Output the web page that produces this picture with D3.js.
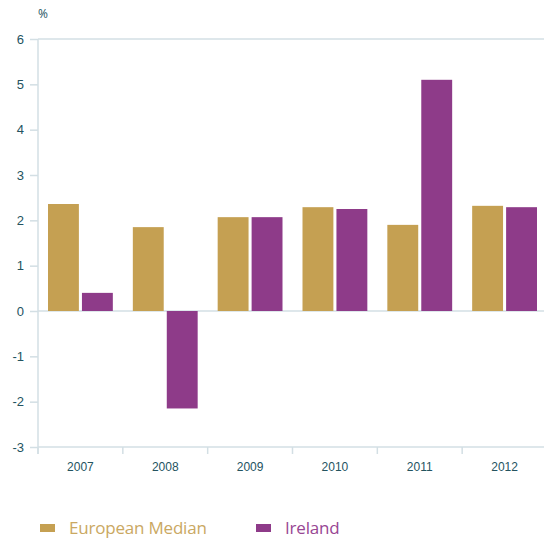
<!DOCTYPE html>
<html>
<head>
<meta charset="utf-8">
<script src="https://cdn.jsdelivr.net/npm/d3@7"></script>
<style>
  body { margin: 0; background: #fff; }
  svg { display: block; font-family: "Open Sans", "Noto Sans", sans-serif; }
</style>
</head>
<body>
<div id="chart"></div>
<script>
const jaren = ["2007", "2008", "2009", "2010", "2011", "2012"];
const europeanMedian = [2.36, 1.85, 2.07, 2.29, 1.90, 2.32];
const ireland = [0.40, -2.15, 2.07, 2.25, 5.10, 2.29];
const series = ["European Median", "Ireland"];
const yTicks = [-3, -2, -1, 0, 1, 2, 3, 4, 5, 6];

const kleuren = ["#c5a052", "#8e3b89"];
const tekstKleuren = ["#caa862", "#984693"];
const asKleur = "#d3dfe4";
const labelKleur = "#24535f";

const width = 544;
const height = 538;
const plotLinks = 38, plotRechts = 547, plotBoven = 39, plotOnder = 447;

const x = d3.scaleBand()
  .domain(jaren)
  .range([plotLinks, plotRechts]);
const xSub = d3.scaleBand()
  .domain(series)
  .range([10, x.bandwidth() - 10])
  .paddingInner(0.09);
const y = d3.scaleLinear()
  .domain([-3, 6])
  .range([plotOnder, plotBoven]);

const svg = d3.select("#chart")
  .append("svg")
  .attr("width", width)
  .attr("height", height);

// Y-as
const yAs = svg.append("g")
  .attr("transform", `translate(${plotLinks},0)`)
  .call(d3.axisLeft(y).tickValues(yTicks).tickSize(8).tickPadding(6).tickFormat(d => String(d)));
yAs.select(".domain").remove();
yAs.selectAll(".tick line").attr("stroke", asKleur).attr("stroke-width", 1.5);
yAs.selectAll(".tick text").attr("font-size", 13).attr("fill", labelKleur);

svg.append("line")
  .attr("x1", plotLinks).attr("x2", plotLinks)
  .attr("y1", y(6)).attr("y2", plotOnder + 7)
  .attr("stroke", asKleur).attr("stroke-width", 1.5);

// Horizontale lijnen bij 6, 0 en -3
[6, 0, -3].forEach(v => {
  svg.append("line")
    .attr("x1", plotLinks).attr("x2", width)
    .attr("y1", y(v)).attr("y2", y(v))
    .attr("stroke", asKleur).attr("stroke-width", 1.5);
});

svg.append("text")
  .text("%")
  .attr("x", 38).attr("y", 18)
  .attr("font-size", 12)
  .attr("fill", labelKleur);

// X-as
const xAs = svg.append("g")
  .attr("transform", `translate(0,${plotOnder})`)
  .call(d3.axisBottom(x).tickSize(0).tickPadding(15));
xAs.select(".domain").remove();
xAs.selectAll(".tick text").attr("font-size", 12).attr("fill", labelKleur);

svg.append("g")
  .selectAll("line")
  .data(jaren)
  .join("line")
  .attr("x1", d => x(d)).attr("x2", d => x(d))
  .attr("y1", plotOnder).attr("y2", plotOnder + 7)
  .attr("stroke", asKleur).attr("stroke-width", 1.5);

// Balken
const waarden = [europeanMedian, ireland];
series.forEach((s, i) => {
  svg.append("g")
    .attr("fill", kleuren[i])
    .selectAll("rect")
    .data(jaren)
    .join("rect")
    .attr("x", d => x(d) + xSub(s))
    .attr("width", xSub.bandwidth())
    .attr("y", (d, j) => y(Math.max(0, waarden[i][j])))
    .attr("height", (d, j) => Math.abs(y(waarden[i][j]) - y(0)));
});

// Legenda
const legendaX = [40, 256];
series.forEach((s, i) => {
  const g = svg.append("g").attr("transform", `translate(${legendaX[i]},524)`);
  g.append("rect").attr("width", 15).attr("height", 8).attr("fill", kleuren[i]);
  g.append("text")
    .text(s)
    .attr("x", 29).attr("y", 10)
    .attr("font-size", 17)
    .attr("letter-spacing", -0.2)
    .attr("fill", tekstKleuren[i]);
});
</script>
</body>
</html>
